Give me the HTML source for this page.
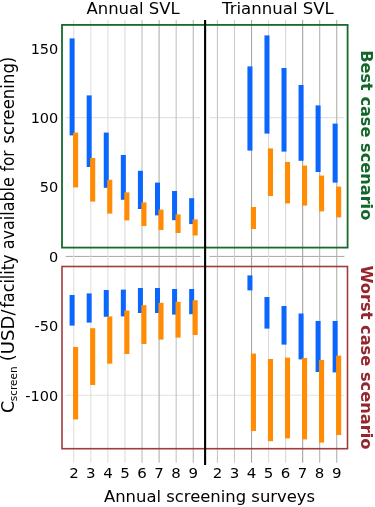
<!DOCTYPE html>
<html lang="en"><head><meta charset="utf-8"><title>Screening cost chart</title>
<style>html,body{margin:0;padding:0;background:#fff}svg{display:block}</style></head>
<body>
<svg width="375" height="507" viewBox="0 0 375 507">
<rect width="375" height="507" fill="#fff"/>
<path d="M65.6 117.60H200.4M209.4 117.60H344.4" stroke="#e2e2e2" stroke-width="1.1" fill="none"/>
<path d="M65.6 395.20H200.4M209.4 395.20H344.4" stroke="#e2e2e2" stroke-width="1.1" fill="none"/>
<path d="M65.6 256.4H200.4M209.4 256.4H344.4" stroke="#a6a6a6" stroke-width="1" fill="none"/>
<path d="M73.70 20V462.8" stroke="#e0e0e0" stroke-width="1.1"/>
<path d="M217.45 20V462.8" stroke="#c6c6c6" stroke-width="1.1"/>
<path d="M90.78 20V462.8" stroke="#e0e0e0" stroke-width="1.1"/>
<path d="M234.49 20V462.8" stroke="#cccccc" stroke-width="1.1"/>
<path d="M107.86 20V462.8" stroke="#dedede" stroke-width="1.1"/>
<path d="M251.53 20V462.8" stroke="#a8a8a8" stroke-width="1.1"/>
<path d="M124.94 20V462.8" stroke="#dadada" stroke-width="1.1"/>
<path d="M268.57 20V462.8" stroke="#dcdcdc" stroke-width="1.1"/>
<path d="M142.02 20V462.8" stroke="#bdbdbd" stroke-width="1.1"/>
<path d="M285.61 20V462.8" stroke="#d8d8d8" stroke-width="1.1"/>
<path d="M159.10 20V462.8" stroke="#b0b0b0" stroke-width="1.1"/>
<path d="M302.65 20V462.8" stroke="#a4a4a4" stroke-width="1.1"/>
<path d="M176.18 20V462.8" stroke="#c4c4c4" stroke-width="1.1"/>
<path d="M319.69 20V462.8" stroke="#b4b4b4" stroke-width="1.1"/>
<path d="M193.26 20V462.8" stroke="#b8b8b8" stroke-width="1.1"/>
<path d="M336.73 20V462.8" stroke="#b0b0b0" stroke-width="1.1"/>
<rect x="69.60" y="38.40" width="5" height="97.00" fill="#0a66fc"/>
<rect x="86.68" y="95.40" width="5" height="71.60" fill="#0a66fc"/>
<rect x="103.76" y="132.60" width="5" height="55.20" fill="#0a66fc"/>
<rect x="120.84" y="155.00" width="5" height="44.80" fill="#0a66fc"/>
<rect x="137.92" y="170.80" width="5" height="38.20" fill="#0a66fc"/>
<rect x="155.00" y="182.60" width="5" height="32.80" fill="#0a66fc"/>
<rect x="172.08" y="191.00" width="5" height="29.20" fill="#0a66fc"/>
<rect x="189.16" y="198.20" width="5" height="25.90" fill="#0a66fc"/>
<rect x="73.05" y="132.60" width="5.1" height="54.80" fill="#ff8c04"/>
<rect x="90.13" y="158.00" width="5.1" height="43.60" fill="#ff8c04"/>
<rect x="107.21" y="179.80" width="5.1" height="33.80" fill="#ff8c04"/>
<rect x="124.29" y="192.40" width="5.1" height="28.00" fill="#ff8c04"/>
<rect x="141.37" y="202.40" width="5.1" height="23.60" fill="#ff8c04"/>
<rect x="158.45" y="209.60" width="5.1" height="20.40" fill="#ff8c04"/>
<rect x="175.53" y="214.40" width="5.1" height="18.60" fill="#ff8c04"/>
<rect x="192.61" y="219.40" width="5.1" height="16.10" fill="#ff8c04"/>
<rect x="69.60" y="295.00" width="5" height="30.60" fill="#0a66fc"/>
<rect x="86.68" y="293.40" width="5" height="29.20" fill="#0a66fc"/>
<rect x="103.76" y="290.00" width="5" height="26.80" fill="#0a66fc"/>
<rect x="120.84" y="289.60" width="5" height="26.80" fill="#0a66fc"/>
<rect x="137.92" y="288.00" width="5" height="25.00" fill="#0a66fc"/>
<rect x="155.00" y="288.00" width="5" height="25.00" fill="#0a66fc"/>
<rect x="172.08" y="289.00" width="5" height="25.60" fill="#0a66fc"/>
<rect x="189.16" y="289.00" width="5" height="25.20" fill="#0a66fc"/>
<rect x="73.05" y="347.00" width="5.1" height="72.40" fill="#ff8c04"/>
<rect x="90.13" y="328.20" width="5.1" height="56.80" fill="#ff8c04"/>
<rect x="107.21" y="316.40" width="5.1" height="47.30" fill="#ff8c04"/>
<rect x="124.29" y="310.60" width="5.1" height="43.40" fill="#ff8c04"/>
<rect x="141.37" y="305.20" width="5.1" height="38.80" fill="#ff8c04"/>
<rect x="158.45" y="302.80" width="5.1" height="36.80" fill="#ff8c04"/>
<rect x="175.53" y="301.80" width="5.1" height="35.80" fill="#ff8c04"/>
<rect x="192.61" y="300.20" width="5.1" height="34.80" fill="#ff8c04"/>
<rect x="247.43" y="66.40" width="5" height="84.20" fill="#0a66fc"/>
<rect x="264.47" y="35.40" width="5" height="98.20" fill="#0a66fc"/>
<rect x="281.51" y="68.00" width="5" height="83.60" fill="#0a66fc"/>
<rect x="298.55" y="85.00" width="5" height="75.80" fill="#0a66fc"/>
<rect x="315.59" y="105.40" width="5" height="66.60" fill="#0a66fc"/>
<rect x="332.63" y="123.60" width="5" height="59.00" fill="#0a66fc"/>
<rect x="250.88" y="207.00" width="5.1" height="22.00" fill="#ff8c04"/>
<rect x="267.92" y="148.40" width="5.1" height="47.60" fill="#ff8c04"/>
<rect x="284.96" y="162.00" width="5.1" height="41.40" fill="#ff8c04"/>
<rect x="302.00" y="165.60" width="5.1" height="40.00" fill="#ff8c04"/>
<rect x="319.04" y="175.60" width="5.1" height="35.80" fill="#ff8c04"/>
<rect x="336.08" y="186.60" width="5.1" height="30.80" fill="#ff8c04"/>
<rect x="247.43" y="275.40" width="5" height="15.00" fill="#0a66fc"/>
<rect x="264.47" y="297.00" width="5" height="31.60" fill="#0a66fc"/>
<rect x="281.51" y="306.00" width="5" height="38.60" fill="#0a66fc"/>
<rect x="298.55" y="313.50" width="5" height="45.90" fill="#0a66fc"/>
<rect x="315.59" y="321.00" width="5" height="51.00" fill="#0a66fc"/>
<rect x="332.63" y="321.00" width="5" height="51.40" fill="#0a66fc"/>
<rect x="250.88" y="353.60" width="5.1" height="77.40" fill="#ff8c04"/>
<rect x="267.92" y="359.00" width="5.1" height="82.20" fill="#ff8c04"/>
<rect x="284.96" y="357.60" width="5.1" height="80.80" fill="#ff8c04"/>
<rect x="302.00" y="358.00" width="5.1" height="81.40" fill="#ff8c04"/>
<rect x="319.04" y="360.00" width="5.1" height="82.60" fill="#ff8c04"/>
<rect x="336.08" y="355.60" width="5.1" height="79.40" fill="#ff8c04"/>
<rect x="62" y="24.9" width="285.6" height="222.7" fill="none" stroke="#176a2a" stroke-width="1.8"/>
<rect x="62" y="266.5" width="285.5" height="182.2" fill="none" stroke="#a03c3c" stroke-width="1.6"/>
<path d="M205.1 20V465" stroke="#000" stroke-width="2.1"/>
<text x="86.47" y="13.60" font-family="DejaVu Sans, Verdana, sans-serif" font-size="16" fill="#000" textLength="93.22" lengthAdjust="spacingAndGlyphs">Annual SVL</text>
<text x="222.00" y="13.60" font-family="DejaVu Sans, Verdana, sans-serif" font-size="16" fill="#000" textLength="111.83" lengthAdjust="spacingAndGlyphs">Triannual SVL</text>
<text x="103.97" y="502.00" font-family="DejaVu Sans, Verdana, sans-serif" font-size="16.4" fill="#000" textLength="211.12" lengthAdjust="spacingAndGlyphs">Annual screening surveys</text>
<text x="30.65" y="53.50" font-family="DejaVu Sans, Verdana, sans-serif" font-size="14" fill="#000" textLength="27.67" lengthAdjust="spacingAndGlyphs">150</text>
<text x="30.65" y="122.90" font-family="DejaVu Sans, Verdana, sans-serif" font-size="14" fill="#000" textLength="27.67" lengthAdjust="spacingAndGlyphs">100</text>
<text x="39.83" y="192.30" font-family="DejaVu Sans, Verdana, sans-serif" font-size="14" fill="#000" textLength="18.45" lengthAdjust="spacingAndGlyphs">50</text>
<text x="49.02" y="261.70" font-family="DejaVu Sans, Verdana, sans-serif" font-size="14" fill="#000" textLength="9.23" lengthAdjust="spacingAndGlyphs">0</text>
<text x="34.53" y="331.10" font-family="DejaVu Sans, Verdana, sans-serif" font-size="14" fill="#000" textLength="23.68" lengthAdjust="spacingAndGlyphs">-50</text>
<text x="25.34" y="400.50" font-family="DejaVu Sans, Verdana, sans-serif" font-size="14" fill="#000" textLength="32.89" lengthAdjust="spacingAndGlyphs">-100</text>
<text x="69.15" y="478.30" font-family="DejaVu Sans, Verdana, sans-serif" font-size="14" fill="#000" textLength="9.55" lengthAdjust="spacingAndGlyphs">2</text>
<text x="212.80" y="478.30" font-family="DejaVu Sans, Verdana, sans-serif" font-size="14" fill="#000" textLength="9.55" lengthAdjust="spacingAndGlyphs">2</text>
<text x="86.10" y="478.30" font-family="DejaVu Sans, Verdana, sans-serif" font-size="14" fill="#000" textLength="9.55" lengthAdjust="spacingAndGlyphs">3</text>
<text x="229.71" y="478.30" font-family="DejaVu Sans, Verdana, sans-serif" font-size="14" fill="#000" textLength="9.55" lengthAdjust="spacingAndGlyphs">3</text>
<text x="103.18" y="478.30" font-family="DejaVu Sans, Verdana, sans-serif" font-size="14" fill="#000" textLength="9.55" lengthAdjust="spacingAndGlyphs">4</text>
<text x="246.75" y="478.30" font-family="DejaVu Sans, Verdana, sans-serif" font-size="14" fill="#000" textLength="9.55" lengthAdjust="spacingAndGlyphs">4</text>
<text x="120.19" y="478.30" font-family="DejaVu Sans, Verdana, sans-serif" font-size="14" fill="#000" textLength="9.55" lengthAdjust="spacingAndGlyphs">5</text>
<text x="263.72" y="478.30" font-family="DejaVu Sans, Verdana, sans-serif" font-size="14" fill="#000" textLength="9.55" lengthAdjust="spacingAndGlyphs">5</text>
<text x="137.20" y="478.30" font-family="DejaVu Sans, Verdana, sans-serif" font-size="14" fill="#000" textLength="9.55" lengthAdjust="spacingAndGlyphs">6</text>
<text x="280.69" y="478.30" font-family="DejaVu Sans, Verdana, sans-serif" font-size="14" fill="#000" textLength="9.55" lengthAdjust="spacingAndGlyphs">6</text>
<text x="154.35" y="478.30" font-family="DejaVu Sans, Verdana, sans-serif" font-size="14" fill="#000" textLength="9.55" lengthAdjust="spacingAndGlyphs">7</text>
<text x="297.80" y="478.30" font-family="DejaVu Sans, Verdana, sans-serif" font-size="14" fill="#000" textLength="9.55" lengthAdjust="spacingAndGlyphs">7</text>
<text x="171.37" y="478.30" font-family="DejaVu Sans, Verdana, sans-serif" font-size="14" fill="#000" textLength="9.55" lengthAdjust="spacingAndGlyphs">8</text>
<text x="314.77" y="478.30" font-family="DejaVu Sans, Verdana, sans-serif" font-size="14" fill="#000" textLength="9.55" lengthAdjust="spacingAndGlyphs">8</text>
<text x="188.58" y="478.30" font-family="DejaVu Sans, Verdana, sans-serif" font-size="14" fill="#000" textLength="9.55" lengthAdjust="spacingAndGlyphs">9</text>
<text x="331.95" y="478.30" font-family="DejaVu Sans, Verdana, sans-serif" font-size="14" fill="#000" textLength="9.55" lengthAdjust="spacingAndGlyphs">9</text>
<text transform="translate(14.40 413.02) rotate(-90)" font-family="DejaVu Sans, Verdana, sans-serif" font-size="17" fill="#000" textLength="12.11" lengthAdjust="spacingAndGlyphs">C</text>
<text transform="translate(17.30 401.20) rotate(-90)" font-family="DejaVu Sans, Verdana, sans-serif" font-size="10.5" fill="#000" textLength="34.70" lengthAdjust="spacingAndGlyphs">screen</text>
<text transform="translate(14.40 361.19) rotate(-90)" font-family="DejaVu Sans, Verdana, sans-serif" font-size="17" fill="#000" textLength="51.76" lengthAdjust="spacingAndGlyphs">(USD/</text>
<text transform="translate(14.40 307.75) rotate(-90)" font-family="DejaVu Sans, Verdana, sans-serif" font-size="17" fill="#000" textLength="53.15" lengthAdjust="spacingAndGlyphs">facility</text>
<text transform="translate(14.40 249.24) rotate(-90)" font-family="DejaVu Sans, Verdana, sans-serif" font-size="17" fill="#000" textLength="72.05" lengthAdjust="spacingAndGlyphs">available</text>
<text transform="translate(14.40 171.54) rotate(-90)" font-family="DejaVu Sans, Verdana, sans-serif" font-size="17" fill="#000" textLength="21.24" lengthAdjust="spacingAndGlyphs">for</text>
<text transform="translate(14.40 143.55) rotate(-90)" font-family="DejaVu Sans, Verdana, sans-serif" font-size="17" fill="#000" textLength="86.85" lengthAdjust="spacingAndGlyphs">screening)</text>
<text transform="translate(361.20 50.14) rotate(90)" font-family="DejaVu Sans, Verdana, sans-serif" font-size="16.6" font-weight="bold" fill="#12662a" textLength="170.13" lengthAdjust="spacingAndGlyphs">Best case scenario</text>
<text transform="translate(361.20 265.51) rotate(90)" font-family="DejaVu Sans, Verdana, sans-serif" font-size="16.6" font-weight="bold" fill="#96262e" textLength="183.88" lengthAdjust="spacingAndGlyphs">Worst case scenario</text>
</svg>
</body></html>
